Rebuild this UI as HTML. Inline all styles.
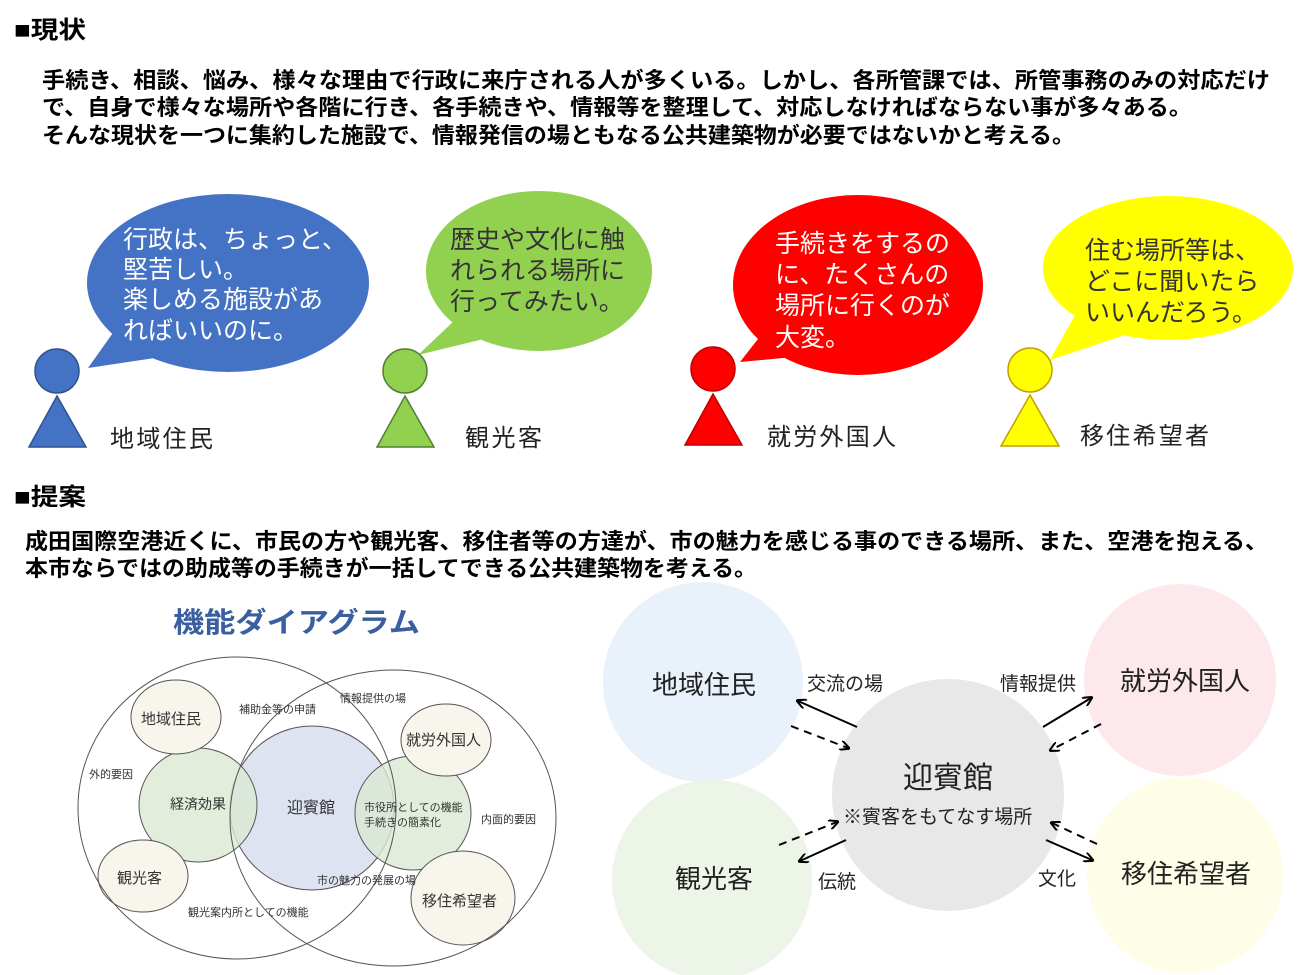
<!DOCTYPE html>
<html><head><meta charset="utf-8"><style>
html,body{margin:0;padding:0;background:#fff;}
svg{display:block;font-family:"Liberation Sans","Noto Sans CJK JP",sans-serif;}
.b{font-weight:bold;}
</style></head><body>
<svg width="1300" height="975" viewBox="0 0 1300 975">
<defs>
<marker id="ah" markerWidth="10" markerHeight="10" refX="8" refY="5" orient="auto" markerUnits="userSpaceOnUse"><path d="M0,0 L10,5 L0,10" fill="none" stroke="#000" stroke-width="2"/></marker>
</defs>
<text x="14" y="38" font-size="24" class="b" textLength="72" lengthAdjust="spacingAndGlyphs">■現状</text>
<text x="42" y="88" font-size="22" class="b" textLength="1228" lengthAdjust="spacingAndGlyphs">手続き、相談、悩み、様々な理由で行政に来庁される人が多くいる。しかし、各所管課では、所管事務のみの対応だけ</text>
<text x="42" y="115" font-size="22" class="b" textLength="1150" lengthAdjust="spacingAndGlyphs">で、自身で様々な場所や各階に行き、各手続きや、情報等を整理して、対応しなければならない事が多々ある。</text>
<text x="42" y="143" font-size="22" class="b" textLength="1033" lengthAdjust="spacingAndGlyphs">そんな現状を一つに集約した施設で、情報発信の場ともなる公共建築物が必要ではないかと考える。</text>

<path d="M115,330 L88,368 L175,355 Z" fill="#4472c4"/>
<ellipse cx="228" cy="283" rx="141" ry="89" fill="#4472c4"/>
<g fill="#fff" font-size="25">
<text x="123" y="248">行政は、ちょっと、</text>
<text x="123" y="278">堅苦しい。</text>
<text x="123" y="308">楽しめる施設があ</text>
<text x="123" y="339">ればいいのに。</text>
</g>
<path d="M455,320 L418,355 L500,335 Z" fill="#92d050"/>
<ellipse cx="539" cy="271" rx="113" ry="80" fill="#92d050"/>
<g fill="#333" font-size="25">
<text x="450" y="248">歴史や文化に触</text>
<text x="450" y="279">れられる場所に</text>
<text x="450" y="310">行ってみたい。</text>
</g>
<path d="M765,330 L740,362 L815,355 Z" fill="#ff0000"/>
<ellipse cx="858" cy="285" rx="125" ry="90" fill="#ff0000"/>
<g fill="#fff" font-size="25">
<text x="775" y="252">手続きをするの</text>
<text x="775" y="283">に、たくさんの</text>
<text x="775" y="314">場所に行くのが</text>
<text x="775" y="346">大変。</text>
</g>
<path d="M1075,315 L1050,360 L1125,335 Z" fill="#ffff00"/>
<ellipse cx="1168" cy="268" rx="125" ry="72" fill="#ffff00"/>
<g fill="#333" font-size="25">
<text x="1085" y="259">住む場所等は、</text>
<text x="1085" y="290">どこに聞いたら</text>
<text x="1085" y="321">いいんだろう。</text>
</g>

<g stroke="#2f528f" stroke-width="1.5">
<circle cx="57" cy="371" r="22" fill="#4472c4"/><path d="M57,396 L86,447 L29,447 Z" fill="#4472c4"/></g>
<g stroke="#507e32" stroke-width="1.5">
<circle cx="405" cy="371" r="22" fill="#92d050"/><path d="M405,396 L434,447 L377,447 Z" fill="#92d050"/></g>
<g stroke="#c00000" stroke-width="1.5">
<circle cx="713" cy="369" r="22" fill="#ff0000"/><path d="M713,394 L742,445 L685,445 Z" fill="#ff0000"/></g>
<g stroke="#bfa000" stroke-width="1.5">
<circle cx="1030" cy="370" r="22" fill="#ffff00"/><path d="M1030,395 L1059,446 L1001,446 Z" fill="#ffff00"/></g>
<g font-size="24" fill="#222">
<text x="110" y="447" textLength="103">地域住民</text>
<text x="465" y="446" textLength="77">観光客</text>
<text x="767" y="445" textLength="129">就労外国人</text>
<text x="1080" y="444" textLength="129">移住希望者</text>
</g>

<text x="14" y="505" font-size="24" class="b" textLength="72" lengthAdjust="spacingAndGlyphs">■提案</text>
<text x="25" y="549" font-size="22" class="b" textLength="1243" lengthAdjust="spacingAndGlyphs">成田国際空港近くに、市民の方や観光客、移住者等の方達が、市の魅力を感じる事のできる場所、また、空港を抱える、</text>
<text x="25" y="576" font-size="22" class="b" textLength="732" lengthAdjust="spacingAndGlyphs">本市ならではの助成等の手続きが一括してできる公共建築物を考える。</text>

<text x="173" y="632" font-size="28" class="b" fill="#3a5fa0" textLength="247" lengthAdjust="spacingAndGlyphs">機能ダイアグラム</text>

<g stroke="#555" stroke-width="1">
<ellipse cx="312" cy="808" rx="82" ry="82" fill="#dde3f0"/>
<ellipse cx="198" cy="805" rx="59" ry="57" fill="#dbe8d3" fill-opacity="0.8"/>
<ellipse cx="413" cy="813" rx="58" ry="57" fill="#dbe8d3" fill-opacity="0.8"/>
<ellipse cx="176" cy="717" rx="45" ry="37" fill="#f7f5ec"/>
<ellipse cx="446" cy="740" rx="45" ry="36" fill="#f7f5ec"/>
<ellipse cx="143" cy="876" rx="45" ry="36" fill="#f7f5ec"/>
<ellipse cx="463" cy="898" rx="52" ry="47" fill="#f7f5ec"/>
<ellipse cx="237" cy="808" rx="159" ry="151" fill="none"/>
<ellipse cx="393" cy="818" rx="163" ry="148" fill="none"/>
</g>
<g font-size="15" fill="#333">
<text x="141" y="724">地域住民</text>
<text x="406" y="745">就労外国人</text>
<text x="117" y="883">観光客</text>
<text x="422" y="906">移住希望者</text>
<text x="170" y="809" font-size="14">経済効果</text>
<text x="287" y="813" font-size="16">迎賓館</text>
</g>
<g font-size="11" fill="#333">
<text x="239" y="713">補助金等の申請</text>
<text x="340" y="702">情報提供の場</text>
<text x="89" y="778">外的要因</text>
<text x="364" y="811">市役所としての機能</text>
<text x="364" y="826">手続きの簡素化</text>
<text x="481" y="823">内面的要因</text>
<text x="317" y="884">市の魅力の発展の場</text>
<text x="188" y="916">観光案内所としての機能</text>
</g>

<circle cx="703" cy="682" r="100" fill="#e9f2fb"/>
<circle cx="1180" cy="680" r="96" fill="#fde9eb"/>
<circle cx="712" cy="880" r="100" fill="#edf4e8"/>
<circle cx="1185" cy="875" r="98" fill="#fefde8"/>
<circle cx="948" cy="795" r="116" fill="#e8e8e8"/>
<g font-size="26" fill="#222">
<text x="652" y="694">地域住民</text>
<text x="1120" y="690">就労外国人</text>
<text x="675" y="888">観光客</text>
<text x="1121" y="883">移住希望者</text>
<text x="903" y="788" font-size="30">迎賓館</text>
<text x="843" y="823" font-size="19">※賓客をもてなす場所</text>
</g>
<g font-size="19" fill="#222">
<text x="807" y="690">交流の場</text>
<text x="1000" y="690">情報提供</text>
<text x="818" y="888">伝統</text>
<text x="1038" y="885">文化</text>
</g>
<g stroke="#000" stroke-width="2" fill="none">
<line x1="857" y1="727" x2="798" y2="701" marker-end="url(#ah)"/>
<line x1="791" y1="726" x2="848" y2="748" stroke-dasharray="8,6" marker-end="url(#ah)"/>
<line x1="1043" y1="727" x2="1091" y2="698" marker-end="url(#ah)"/>
<line x1="1101" y1="724" x2="1051" y2="750" stroke-dasharray="8,6" marker-end="url(#ah)"/>
<line x1="779" y1="845" x2="837" y2="822" stroke-dasharray="8,6" marker-end="url(#ah)"/>
<line x1="846" y1="840" x2="800" y2="861" marker-end="url(#ah)"/>
<line x1="1097" y1="844" x2="1052" y2="823" stroke-dasharray="8,6" marker-end="url(#ah)"/>
<line x1="1046" y1="840" x2="1092" y2="860" marker-end="url(#ah)"/>
</g>
</svg>
</body></html>
